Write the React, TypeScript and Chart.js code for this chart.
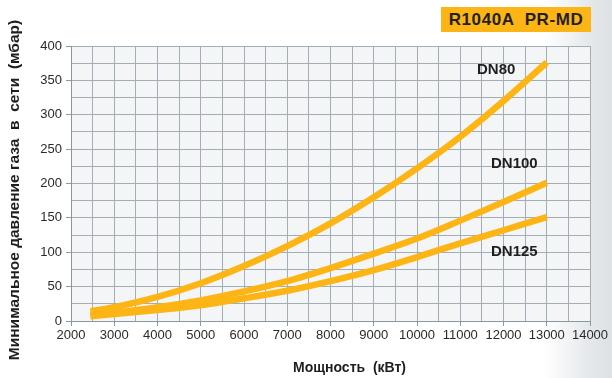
import React, { useEffect, useRef } from "react";
import { Chart, registerables } from "chart.js";

Chart.register(...registerables);

// Data
const powerKW = [2450, 3000, 4000, 5000, 6000, 7000, 8000, 9000, 10000, 11000, 12000, 13000];
const dn80 = [14, 20, 35, 55, 80, 109, 142, 180, 222, 268, 320, 376];
const dn100 = [9, 12, 20, 30, 43, 58, 77, 98, 120, 146, 173, 201];
const dn125 = [7, 10, 16, 23, 33, 44, 58, 74, 93, 113, 132, 151];
const seriesNames = ["DN80", "DN100", "DN125"];
const labelAnchorX = [11830, 12250, 12250];
const labelAnchorY = [365, 228, 101];

const chartTitle = "R1040A PR-MD";
const xTitle = "Мощность  (кВт)";
const yTitle = "Минимальное давление газа  в  сети  (мбар)";

const LINE = "#FDB515";
const GRID = "#a2aeb6";
const FONT = "'Liberation Sans', Arial, sans-serif";

export default function App() {
  const ref = useRef<HTMLCanvasElement>(null);

  useEffect(() => {
    document.body.style.margin = "0";
    const canvas = ref.current!;
    const series = [dn80, dn100, dn125];

    const bgPlugin = {
      id: "bgPlugin",
      beforeDraw(chart: any) {
        const { ctx, chartArea } = chart;
        ctx.save();
        ctx.fillStyle = "#f3f5f7";
        ctx.fillRect(chartArea.left, chartArea.top, chartArea.right - chartArea.left, chartArea.bottom - chartArea.top);
        ctx.restore();
      },
    };

    const textPlugin = {
      id: "textPlugin",
      afterDraw(chart: any) {
        const { ctx, scales } = chart;
        ctx.save();
        ctx.fillStyle = "#1e1e1e";
        ctx.font = `bold 15px ${FONT}`;
        ctx.textAlign = "center";
        ctx.textBaseline = "middle";
        seriesNames.forEach((n, i) => {
          ctx.fillText(n, scales.x.getPixelForValue(labelAnchorX[i]), scales.y.getPixelForValue(labelAnchorY[i]));
        });
        // x title
        ctx.font = `bold 14px ${FONT}`;
        ctx.fillText(xTitle, 349.5, 368);
        // y title
        ctx.translate(15, 190);
        ctx.rotate(-Math.PI / 2);
        ctx.font = `bold 15.5px ${FONT}`;
        ctx.fillText(yTitle, 0, 0);
        ctx.restore();
      },
    };

    const chart = new Chart(canvas, {
      type: "line",
      data: {
        datasets: series.map((s, i) => ({
          label: seriesNames[i],
          data: powerKW.map((x, j) => ({ x, y: s[j] })),
          borderColor: LINE,
          backgroundColor: LINE,
          borderWidth: 6.5,
          pointRadius: 0,
          cubicInterpolationMode: "monotone" as const,
          fill: false,
        })),
      },
      options: {
        animation: false,
        responsive: false,
        maintainAspectRatio: false,
        events: [],
        layout: { padding: { left: 0, right: 22, top: 46, bottom: 0 } },
        plugins: { legend: { display: false }, tooltip: { enabled: false }, title: { display: false } },
        scales: {
          x: {
            type: "linear",
            min: 2000,
            max: 14000,
            afterFit: (s: any) => { s.height = 378 - 321; },
            ticks: {
              stepSize: 500,
              autoSkip: false,
              maxRotation: 0,
              color: "#2a2a2a",
              font: { family: FONT, size: 13 },
              padding: 2,
              callback: (v: any) => (Number(v) % 1000 === 0 ? String(v) : ""),
            },
            grid: {
              color: GRID,
              lineWidth: 1,
              tickLength: 5,
              tickColor: (c: any) => (c.tick && c.tick.value % 1000 === 0 ? "#8c98a0" : "rgba(0,0,0,0)"),
            },
            border: { color: "#8c98a0", width: 1 },
          },
          y: {
            type: "linear",
            min: 0,
            max: 400,
            afterFit: (s: any) => { s.width = 71; },
            ticks: {
              stepSize: 25,
              autoSkip: false,
              color: "#2a2a2a",
              font: { family: FONT, size: 13 },
              padding: 4,
              callback: (v: any) => (Number(v) % 50 === 0 ? String(v) : ""),
            },
            grid: {
              color: GRID,
              lineWidth: 1,
              tickLength: 5,
              tickColor: (c: any) => (c.tick && c.tick.value % 50 === 0 ? "#8c98a0" : "rgba(0,0,0,0)"),
            },
            border: { color: "#8c98a0", width: 1 },
          },
        },
      },
      plugins: [bgPlugin, textPlugin],
    });
    return () => chart.destroy();
  }, []);

  return (
    <div
      style={{
        position: "relative",
        width: 612,
        height: 378,
        background: "linear-gradient(to right, #ffffff 0%, #ffffff 89%, #e6e9ec 96%, #dde1e4 100%)",
      }}
    >
      <canvas ref={ref} width={612} height={378} style={{ position: "absolute", left: 0, top: 0 }} />
      <div
        style={{
          position: "absolute",
          left: 441,
          top: 7,
          width: 150,
          height: 25,
          background: LINE,
          color: "#231f20",
          fontFamily: FONT,
          fontWeight: "bold",
          fontSize: 17,
          letterSpacing: 0.6,
          lineHeight: "25px",
          textAlign: "center",
          whiteSpace: "pre",
        }}
      >
        {chartTitle.replace(" ", "  ")}
      </div>
    </div>
  );
}
